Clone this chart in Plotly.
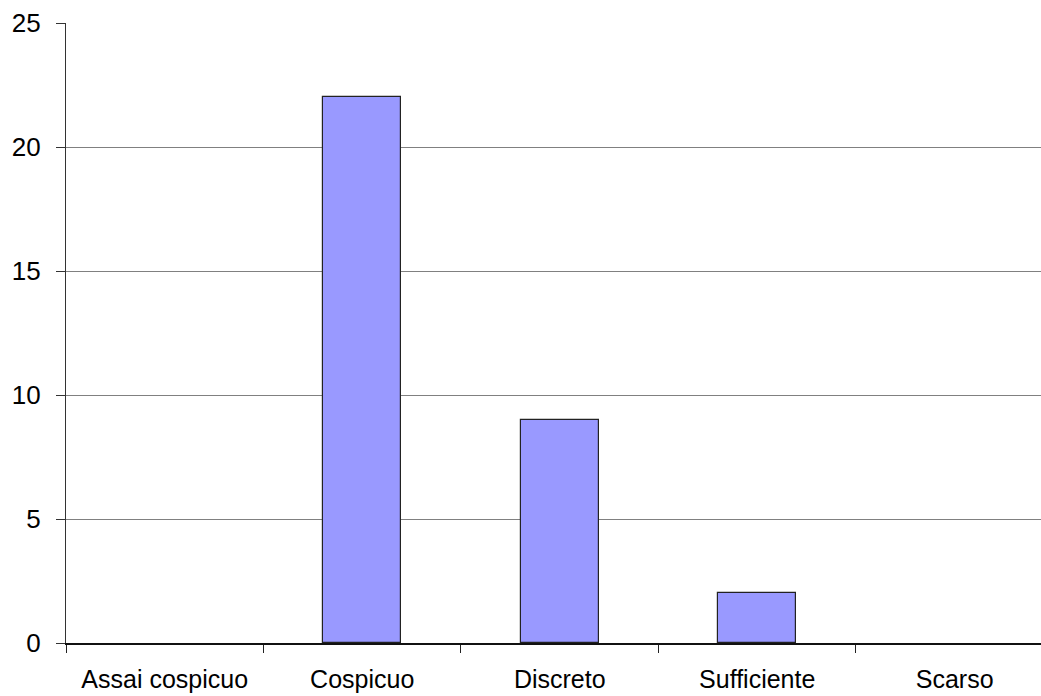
import plotly.graph_objects as go

categories = ["Assai cospicuo", "Cospicuo", "Discreto", "Sufficiente", "Scarso"]
values = [0, 22, 9, 2, 0]
y_ticks = [0, 5, 10, 15, 20, 25]

# zero-height bars get no outline so they leave no stub on the axis
outline_widths = [1.2 if v > 0 else 0 for v in values]

fig = go.Figure(
    go.Bar(
        x=categories,
        y=values,
        width=0.395,
        marker=dict(color="#9999FF", line=dict(color="#222222", width=outline_widths)),
    )
)

fig.update_layout(
    width=1041,
    height=696,
    margin=dict(l=66, r=0, t=23, b=53),
    paper_bgcolor="white",
    plot_bgcolor="white",
    font=dict(family="Liberation Sans, Arial, sans-serif", color="black"),
    showlegend=False,
    bargap=0,
)

fig.update_xaxes(
    type="category",
    range=[-0.5, 4.437],
    tickson="boundaries",
    ticks="outside",
    ticklen=8,
    tickwidth=1.2,
    tickcolor="#222222",
    showline=True,
    linecolor="#111111",
    linewidth=1.5,
    showgrid=False,
    tickfont=dict(size=25),
    ticklabelstandoff=13,
    automargin=False,
)

fig.update_yaxes(
    range=[0, 25],
    tickvals=y_ticks,
    ticks="outside",
    ticklen=9,
    tickcolor="#333333",
    showline=True,
    linecolor="#333333",
    linewidth=1.2,
    showgrid=True,
    gridcolor="#808080",
    gridwidth=1,
    zeroline=False,
    tickfont=dict(size=26),
    ticklabelstandoff=10,
    automargin=False,
)

fig.write_html("out.html")
